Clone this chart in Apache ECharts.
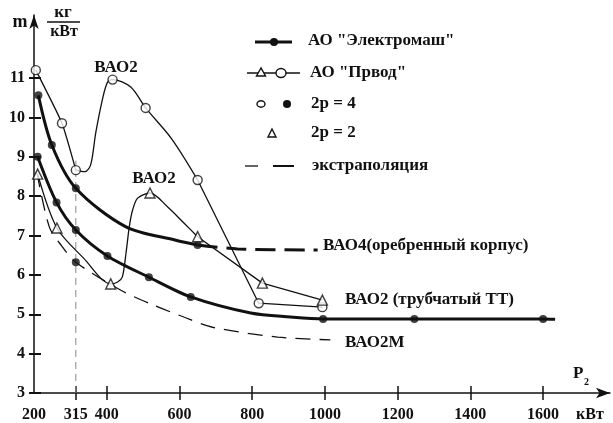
<!DOCTYPE html>
<html><head><meta charset="utf-8">
<script src="https://cdn.jsdelivr.net/npm/echarts@6/dist/echarts.min.js"></script>
<style>html,body{margin:0;padding:0;background:#fff}#c{width:613px;height:423px}</style>
</head><body><div id="c"></div>
<script>
// ---- axis ticks / labels ----
const xLabelValues = [200, 315, 400, 600, 800, 1000, 1200, 1400, 1600];
const xTickValues = [315, 400, 600, 800, 1000, 1200, 1400, 1600];
const yTickValues = [3, 4, 5, 6, 7, 8, 9, 10, 11];

// ---- АО "Электромаш", ВАО4 (оребренный корпус) ----
const bao4Curve = [[212,10.56],[249,9.30],[315,8.20],[453,7.22],[590,6.88],[650,6.76]];
const bao4Dots  = [[212,10.56],[249,9.30],[315,8.20],[650,6.76]];
const bao4Extrap = [[650,6.76],[760,6.66],[980,6.63]];

// ---- АО "Электромаш", ВАО2 (трубчатый ТТ) ----
const bao2Curve = [[210,9.0],[262,7.84],[315,7.14],[402,6.48],[516,5.94],[631,5.44],[796,5.03],[905,4.93],[995,4.88],[1246,4.88],[1600,4.88],[1633,4.87]];
const bao2Dots  = [[210,9.0],[262,7.84],[315,7.14],[402,6.48],[516,5.94],[631,5.44],[995,4.88],[1246,4.88],[1600,4.88]];

// ---- ВАО2М (экстраполяция) ----
const bao2mCurve = [[208,8.6],[242,7.22],[275,6.75],[315,6.32],[439,5.61],[521,5.26],[612,4.93],[691,4.67],[870,4.42],[1015,4.35]];
const bao2mDots = [[315,6.32]];

// ---- АО "Првод", 2p = 4 (circles) ----
const priv4Start = [[205,11.2],[277,9.85],[315,8.66]];
const priv4Curve = [[315,8.66],[340,8.62],[356,8.8],[370,9.62],[389,10.49],[402,10.89],[416,10.96],[466,10.77],[507,10.24],[579,9.45],[650,8.41]];
const priv4Straight = [[650,8.41],[818,5.28],[993,5.18]];
const priv4Marks = [[205,11.2],[277,9.85],[315,8.66],[416,10.96],[507,10.24],[650,8.41],[818,5.28],[993,5.18]];

// ---- АО "Првод", 2p = 2 (triangles) ----
const priv2Curve = [[210,8.56],[263,7.19],[337,6.42],[411,5.77],[430,5.82],[443,5.95],[453,6.55],[462,7.22],[471,7.64],[485,7.95],[519,8.08],[567,7.73],[613,7.31],[650,6.97]];
const priv2Straight = [[650,6.97],[828,5.79],[993,5.36]];
const priv2Marks = [[210,8.56],[263,7.19],[411,5.77],[519,8.08],[650,6.97],[828,5.79],[993,5.36]];

// ---- vertical guide at 315 kW ----
const guide315 = [[315,3],[315,8.9]];

const FONT = 'Liberation Serif';
const ink = '#111';
const thick = 3, thin = 1.3;

function lineSeries(data, width, opts) {
  return Object.assign({
    type: 'line', data: data, symbol: 'none', smooth: 0.3,
    lineStyle: { color: ink, width: width }, z: 3, silent: true
  }, opts || {});
}

const chart = echarts.init(document.getElementById('c'));
const txt = (x, y, text, size, align) => ({
  type: 'text', x: x, y: y, z: 10,
  style: { text: text, fill: ink, font: 'bold ' + size + 'px "' + FONT + '"',
           align: align || 'left', verticalAlign: 'middle' }
});

chart.setOption({
  animation: false,
  backgroundColor: '#fff',
  grid: { left: 34, top: 15, width: 576, height: 378, outerBoundsMode: 'none' },
  xAxis: [{
    type: 'value', min: 200, max: 1784,
    axisLine: { show: true, onZero: false, lineStyle: { color: ink, width: 1.5 }, symbol: ['none', 'arrow'], symbolSize: [8, 14] },
    splitLine: { show: false },
    axisTick: { show: true, customValues: xTickValues, length: 7, lineStyle: { color: ink, width: 1.5 } },
    axisLabel: { customValues: xLabelValues, formatter: v => String(v), color: ink, fontFamily: FONT, fontWeight: 'bold', fontSize: 16, margin: 14 }
  }, {
    type: 'value', min: 200, max: 1784, position: 'bottom',
    axisLine: { show: false }, splitLine: { show: false },
    axisTick: { show: true, inside: true, customValues: xTickValues, length: 7, lineStyle: { color: ink, width: 1.5 } },
    axisLabel: { show: false }
  }],
  yAxis: [{
    type: 'value', min: 3, max: 12.6,
    axisLine: { show: true, onZero: false, lineStyle: { color: ink, width: 1.5 }, symbol: ['none', 'arrow'], symbolSize: [7, 14] },
    splitLine: { show: false },
    axisTick: { show: true, inside: true, customValues: yTickValues, length: 7, lineStyle: { color: ink, width: 2 } },
    axisLabel: { customValues: yTickValues, formatter: v => String(v), color: ink, fontFamily: FONT, fontWeight: 'bold', fontSize: 16, margin: 9 }
  }, {
    type: 'value', min: 3, max: 12.6, position: 'left',
    axisLine: { show: false }, splitLine: { show: false },
    axisTick: { show: true, customValues: yTickValues, length: 5, lineStyle: { color: ink, width: 2 } },
    axisLabel: { show: false }
  }],
  series: [
    lineSeries(guide315, 1, { smooth: false, lineStyle: { color: '#888', width: 1, type: [7, 5] }, z: 1 }),
    lineSeries(bao4Curve, thick),
    lineSeries(bao4Extrap, thick, { lineStyle: { color: ink, width: thick, type: [20, 9] } }),
    lineSeries(bao2Curve, thick),
    lineSeries(bao2mCurve, thin, { lineStyle: { color: ink, width: thin, type: [15, 9] } }),
    lineSeries(priv4Start, thin, { smooth: 0.15 }),
    lineSeries(priv4Curve, thin),
    lineSeries(priv4Straight, thin, { smooth: false }),
    lineSeries(priv2Curve, thin),
    lineSeries(priv2Straight, thin, { smooth: false }),
    { type: 'scatter', data: bao4Dots.concat(bao2Dots, bao2mDots), symbol: 'circle', symbolSize: 8,
      itemStyle: { color: ink }, z: 5, silent: true },
    { type: 'scatter', data: priv4Marks, symbol: 'circle', symbolSize: 9,
      itemStyle: { color: '#fff', borderColor: ink, borderWidth: 1.4 }, z: 6, silent: true },
    { type: 'scatter', data: priv2Marks, symbol: 'triangle', symbolSize: 10,
      itemStyle: { color: '#fff', borderColor: ink, borderWidth: 1.4 }, z: 6, silent: true }
  ],
  graphic: [
    // axis titles
    txt(20, 22, 'm', 18, 'center'),
    txt(63, 13, 'кг', 17, 'center'),
    { type: 'line', shape: { x1: 47, y1: 22, x2: 80, y2: 22 }, style: { stroke: ink, lineWidth: 1.5 } },
    txt(64, 32, 'кВт', 16, 'center'),
    txt(573, 374, 'P', 17),
    txt(584, 382, '2', 10),
    txt(576, 415, 'кВт', 16),
    // curve annotations
    txt(116, 68, 'ВАО2', 17, 'center'),
    txt(154, 179, 'ВАО2', 17, 'center'),
    txt(323, 246, 'ВАО4(оребренный корпус)', 17),
    txt(345, 300, 'ВАО2 (трубчатый ТТ)', 17),
    txt(345, 343, 'ВАО2М', 17),
    // legend
    { type: 'line', shape: { x1: 255, y1: 42, x2: 292, y2: 42 }, style: { stroke: ink, lineWidth: 3 } },
    { type: 'circle', shape: { cx: 274, cy: 42, r: 4 }, style: { fill: ink } },
    txt(308, 41, 'АО "Электромаш"', 17),
    { type: 'line', shape: { x1: 247, y1: 73, x2: 300, y2: 73 }, style: { stroke: ink, lineWidth: 1.3 } },
    { type: 'polygon', shape: { points: [[261, 68], [256.5, 76], [265.5, 76]] }, style: { fill: '#fff', stroke: ink, lineWidth: 1.4 } },
    { type: 'ellipse', shape: { cx: 281, cy: 73, rx: 5, ry: 4.5 }, style: { fill: '#fff', stroke: ink, lineWidth: 1.4 } },
    txt(310, 73, 'АО "Првод"', 17),
    { type: 'ellipse', shape: { cx: 261, cy: 104, rx: 4, ry: 3.2 }, style: { fill: '#fff', stroke: ink, lineWidth: 1.4 } },
    { type: 'circle', shape: { cx: 287, cy: 104, r: 4 }, style: { fill: ink } },
    txt(311, 104, '2p = 4', 17),
    { type: 'polygon', shape: { points: [[272, 129], [268, 137], [276, 137]] }, style: { fill: '#fff', stroke: ink, lineWidth: 1.4 } },
    txt(311, 133, '2p = 2', 17),
    { type: 'line', shape: { x1: 245, y1: 166, x2: 258, y2: 166 }, style: { stroke: ink, lineWidth: 1.3 } },
    { type: 'line', shape: { x1: 273, y1: 166, x2: 294, y2: 166 }, style: { stroke: ink, lineWidth: 2 } },
    txt(312, 166, 'экстраполяция', 17)
  ]
});
</script>
</body></html>
